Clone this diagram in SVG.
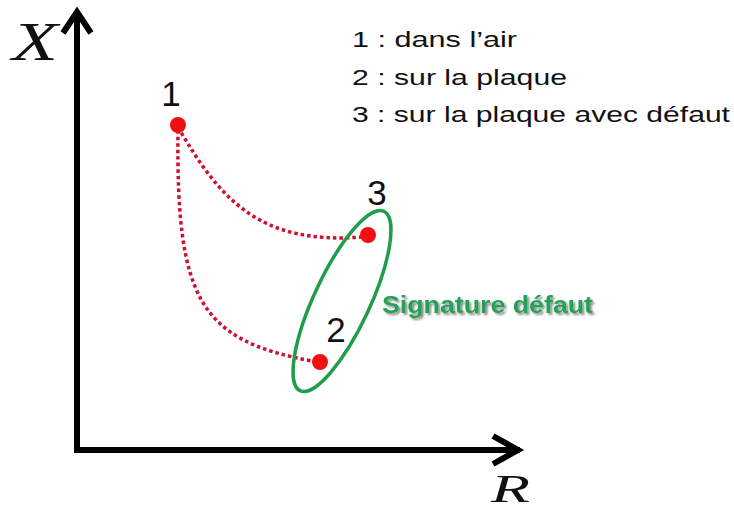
<svg xmlns="http://www.w3.org/2000/svg" width="734" height="511" viewBox="0 0 734 511">
<defs>
<style>
.axis{fill:none;stroke:#000;stroke-width:6;stroke-linecap:butt;stroke-linejoin:miter}
.math{font-family:"Liberation Serif","DejaVu Serif",serif;font-style:italic;fill:#111}
.num{font-family:"Liberation Sans",Arial,sans-serif;font-size:35px;fill:#111;text-anchor:middle}
.leg{font-family:"Liberation Sans",Arial,sans-serif;font-size:22px;fill:#111}
.path{fill:none;stroke:#cf1030;stroke-width:3.5;stroke-dasharray:3.5 3}
.dot{fill:#ee1111}
.sig{font-family:"Liberation Sans",Arial,sans-serif;font-weight:bold;font-size:24px;fill:#27a056}
</style>
<filter id="sh" x="-10%" y="-30%" width="130%" height="170%">
<feGaussianBlur in="SourceAlpha" stdDeviation="1.2"/>
<feOffset dx="1.5" dy="1.5" result="b"/>
<feComponentTransfer><feFuncA type="linear" slope="0.45"/></feComponentTransfer>
<feMerge><feMergeNode/><feMergeNode in="SourceGraphic"/></feMerge>
</filter>
</defs>
<rect width="734" height="511" fill="#fff"/>
<g id="axes">
<polyline class="axis" points="77,12 77,450 520,450"/>
<polyline class="axis" points="63,33 77,12 91,33"/>
<polyline class="axis" points="493,436 518,450 493,464"/>
<text class="math" x="12" y="60" font-size="54" textLength="46" lengthAdjust="spacingAndGlyphs">X</text>
<text class="math" x="491" y="502" font-size="40" textLength="39" lengthAdjust="spacingAndGlyphs">R</text>
</g>
<g id="legend">
<text class="leg" x="352" y="47" textLength="165" lengthAdjust="spacingAndGlyphs">1 : dans l’air</text>
<text class="leg" x="352" y="85" textLength="215" lengthAdjust="spacingAndGlyphs">2 : sur la plaque</text>
<text class="leg" x="352" y="122" textLength="378" lengthAdjust="spacingAndGlyphs">3 : sur la plaque avec défaut</text>
</g>
<g id="connectors">
<path class="path" d="M178,127 C220,200 260,245 362,237"/>
<path class="path" d="M178,130 C176,300 200,340 312,361"/>
</g>
<g id="signature">
<ellipse cx="342" cy="301" rx="99" ry="28" transform="rotate(-65 342 301)" fill="none" stroke="#1f9e4a" stroke-width="3.5"/>
<text class="sig" x="382" y="313" textLength="211" lengthAdjust="spacingAndGlyphs" filter="url(#sh)">Signature défaut</text>
</g>
<g id="p1">
<circle class="dot" cx="178" cy="125" r="8"/>
<text class="num" x="171" y="106">1</text>
</g>
<g id="p3">
<circle class="dot" cx="368" cy="235" r="8"/>
<text class="num" x="377" y="205">3</text>
</g>
<g id="p2">
<circle class="dot" cx="320" cy="362" r="8"/>
<text class="num" x="336" y="342">2</text>
</g>
</svg>
